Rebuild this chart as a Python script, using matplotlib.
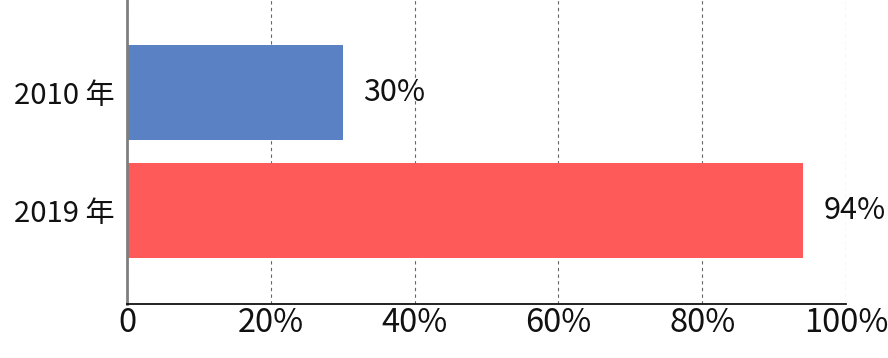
import matplotlib
matplotlib.use("Agg")
import matplotlib.pyplot as plt
from matplotlib.ticker import FixedLocator, FuncFormatter

plt.rcParams["font.family"] = ["Noto Sans CJK JP", "DejaVu Sans"]

# データ
categories = ["2010 年", "2019 年"]
values = [30, 94]
bar_colors = ["#5981C4", "#FF5A5A"]
x_ticks = [0, 20, 40, 60, 80, 100]


def pct(v, _pos):
    return "0" if v == 0 else f"{v:.0f}%"


fig = plt.figure(figsize=(8.88, 3.58), dpi=100)
ax = fig.add_axes([0.143, 0.151, 0.8097, 0.849])

pos = list(range(len(categories)))
ax.barh(pos, values, height=0.805, color=bar_colors, zorder=2)

for p, v in zip(pos, values):
    ax.annotate(f"{v}%", xy=(v, p), xytext=(15, 0), textcoords="offset points",
                ha="left", va="center", fontsize=22, color="#111111")

ax.set_xlim(0, 100)
ax.set_ylim(1.792, -0.784)
ax.set_yticks(pos)
ax.set_yticklabels(categories, fontsize=21, color="#111111")
ax.xaxis.set_major_locator(FixedLocator(x_ticks))
ax.xaxis.set_major_formatter(FuncFormatter(pct))
ax.tick_params(axis="x", length=0, labelsize=23.5, pad=2, labelcolor="#111111")
ax.tick_params(axis="y", length=0, pad=9)

ax.grid(axis="x", linestyle=(0, (3, 3)), color="#666666", linewidth=0.8, zorder=0)
for s in ("top", "right"):
    ax.spines[s].set_visible(False)
ax.spines["left"].set_color("#7f7f7f")
ax.spines["left"].set_linewidth(2)
ax.spines["bottom"].set_color("#111111")
ax.spines["bottom"].set_linewidth(1.3)

fig.savefig("out.png", dpi=100)
